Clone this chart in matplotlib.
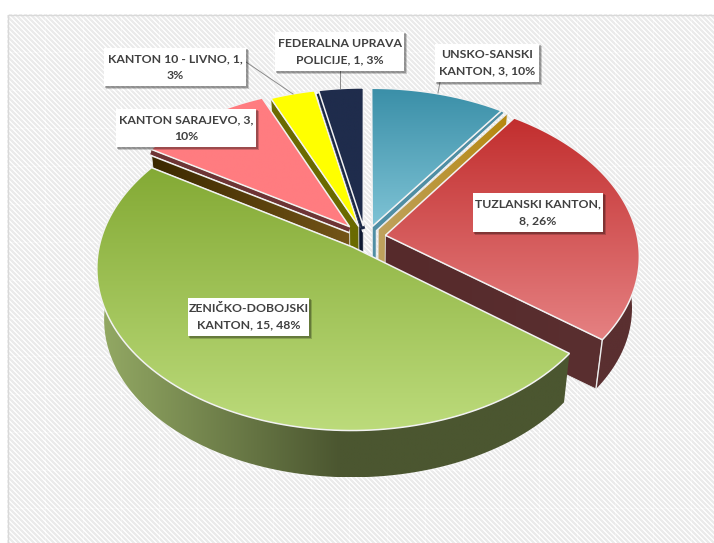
import numpy as np
import matplotlib
matplotlib.use("Agg")
import matplotlib.pyplot as plt
from matplotlib.colors import LinearSegmentedColormap
from matplotlib.patches import Polygon, Rectangle

# Data
counts = [3, 8, 15, 3, 1, 1]
label_text = [
    "UNSKO-SANSKI\nKANTON, 3, 10%",
    "TUZLANSKI KANTON,\n8, 26%",
    "ZENIČKO-DOBOJSKI\nKANTON, 15, 48%",
    "KANTON SARAJEVO, 3,\n10%",
    "KANTON 10 - LIVNO, 1,\n3%",
    "FEDERALNA UPRAVA\nPOLICIJE, 1, 3%",
]
# colours: top gradient (far, near), side gradient (left, right), sliver
top_cols = [("#3a8fa8", "#7fc3d5"), ("#c22e2e", "#e58182"), ("#84aa35", "#bcdb7b"),
            ("#ff7c80", "#ff7c80"), ("#ffff00", "#ffff00"), ("#1f2c4c", "#1f2c4c")]
side_cols = [("#bfa25f", "#b6880f"), ("#562a2b", "#5a2f30"), ("#93a964", "#4b5630"),
             ("#3b2800", "#745518"), ("#6a6a00", "#6a6a00"), ("#0f1a33", "#0f1a33")]
sliver_cols = ["#4f8ea4", None, None, "#6e3435", None, "#1a2745"]
label_boxes = [(435, 44, 539, 82), (473, 193, 603, 232), (188, 298, 309, 336),
               (116, 109, 256, 147), (104, 48, 246, 86), (275, 32, 404, 71)]
leaders = [((440, 82), (438, 93)), None, None, None, ((246, 62), (293, 94)), ((340, 71), (340, 88))]
shift_x = [0, 1, -4, -6, -3, -2]
shift_y = [0, 0, 1, -2, 0, 0]

W, H = 714, 543
CX, CY = 367, 237
A, B, P = 252.0, 158.0, 0.125
EXPLODE = 0.07
SHRINK, DROP = 0.973, 52.0

fig = plt.figure(figsize=(W / 100, H / 100), dpi=100)
ax = fig.add_axes([0, 0, 1, 1])


def project(u, v):
    w = 1 + P * v
    return CX + A * u / w, CY - B * v / w


def lower(xy):
    xy = np.asarray(xy, dtype=float)
    return np.column_stack([CX + (xy[:, 0] - CX) * SHRINK, CY + (xy[:, 1] - CY) * SHRINK + DROP])


def fill_gradient(poly, c0, c1, vertical=True, z=2, span=None):
    cmap = LinearSegmentedColormap.from_list("g", [c0, c1])
    x0, y0 = poly.min(axis=0)
    x1, y1 = poly.max(axis=0)
    g = np.linspace(0, 1, 256)
    if span is not None:
        g = np.clip((np.linspace(x0, x1, 256) - span[0]) / (span[1] - span[0]), 0, 1)
    g = g.reshape(-1, 1) if vertical else g.reshape(1, -1)
    im = ax.imshow(g, cmap=cmap, vmin=0, vmax=1, extent=[x0, x1, y1, y0], aspect="auto", zorder=z, interpolation="bilinear")
    patch = Polygon(poly, closed=True, fc="none", ec="none")
    ax.add_patch(patch)
    im.set_clip_path(patch)


# Background: striped texture with faint tile seams
yy, xx = np.mgrid[0:H, 0:W]
tex = np.where((xx - yy) % 5 < 3, 0.92, 0.985)
seam_x = (xx - 8) % 38 == 37
seam_y = (yy - 15) % 38 == 37
tex[seam_x] = tex[seam_x] + 0.02
tex[seam_y] = tex[seam_y] + 0.02
tex[:14, :] = 1
tex[:, :7] = 1
ax.imshow(tex, cmap="gray", vmin=0, vmax=1, extent=[0, W, H, 0], aspect="auto", interpolation="nearest", zorder=0)
ax.plot([7.5, 7.5, W], [H, 14.5, 14.5], color="#d9d9d9", lw=1, zorder=1)
ax.set_xlim(0, W)
ax.set_ylim(H, 0)
ax.axis("off")

# Slices
fracs = np.array(counts) / sum(counts)
ends = np.cumsum(fracs) * 2 * np.pi
starts = ends - fracs * 2 * np.pi
geo = []
for a0, a1, sx, sy in zip(starts, ends, shift_x, shift_y):
    mid = (a0 + a1) / 2
    du, dv = EXPLODE * np.sin(mid), EXPLODE * np.cos(mid)
    th = np.linspace(a0, a1, 120)
    rim = np.column_stack(project(du + np.sin(th), dv + np.cos(th))) + [sx, sy]
    apex = np.array(project(du, dv)) + [sx, sy]
    geo.append((rim, apex))

# back to front, same order the slices overlap in the picture
z = 2.0
for i in [5, 4, 3, 0, 1, 2]:
    rim, apex = geo[i]
    z += 1
    top = np.vstack([apex, rim])
    # the radial face turned toward the viewer
    edge = rim[0] if i in (3, 4, 5) else rim[-1]
    radial = np.array([apex, edge])
    face = radial + [6, 3] if i == 0 else radial
    side = np.vstack([face, lower(face)[::-1]])
    fill_gradient(side, side_cols[i][0], side_cols[i][1], vertical=False, z=z)
    ax.add_patch(Polygon(side, closed=True, fc="none", ec="#e8e8e8", lw=0.6, zorder=z + 0.1))
    if i == 0:
        # teal strip under the blue slice
        strip = np.array([edge, apex, apex + [0, 38], apex + [4, 38], apex + [4, 4], edge + [3, 2]])
        ax.add_patch(Polygon(strip, closed=True, fc=sliver_cols[0], ec="#f2f2f2", lw=0.7, zorder=z + 0.3))
    elif sliver_cols[i]:
        # thin darker strip straight under the top edge, then a white gap
        ax.plot(radial[:, 0], radial[:, 1] + 6, color="#f2f2f2", lw=1.4, zorder=z + 0.2, solid_capstyle="butt")
        ax.plot(radial[:, 0], radial[:, 1] + 3, color=sliver_cols[i], lw=3, zorder=z + 0.3, solid_capstyle="butt")
    # outer curved side
    if i in (1, 2):
        low = lower(rim)
        shell = np.vstack([rim, low[::-1]])
        if i == 2:
            fill_gradient(shell, side_cols[2][0], side_cols[2][1], vertical=False, z=z + 0.2, span=(100, 340))
        else:
            fill_gradient(shell, "#5a2f30", "#5a2f30", vertical=False, z=z + 0.2)
            ax.plot([rim[-1, 0], low[-1, 0]], [rim[-1, 1], low[-1, 1]], color="#ececec", lw=1, zorder=z + 0.3)
    fill_gradient(top, top_cols[i][0], top_cols[i][1], z=z + 0.5)
    ax.add_patch(Polygon(top, closed=True, fc="none", ec="#f2f2f2", lw=1.1, zorder=z + 0.6, joinstyle="miter"))

# Leader lines
for seg in leaders:
    if seg:
        ax.plot([seg[0][0], seg[1][0]], [seg[0][1], seg[1][1]], color="#8c8c8c", lw=0.7, zorder=20)

# Labels
for txt, (x0, y0, x1, y1) in zip(label_text, label_boxes):
    ax.add_patch(Rectangle((x0 + 2, y0 + 2), x1 - x0 + 1, y1 - y0 + 1, fc="#000000", alpha=0.18, ec="none", zorder=21))
    ax.add_patch(Rectangle((x0 + 1, y0 + 1), x1 - x0 + 1, y1 - y0 + 1, fc="#000000", alpha=0.25, ec="none", zorder=21))
    ax.add_patch(Rectangle((x0, y0), x1 - x0, y1 - y0, fc="white", ec="none", zorder=22))
    ax.text((x0 + x1) / 2, (y0 + y1) / 2, txt, ha="center", va="center", family="Lato", weight="bold",
            fontsize=8.85, color="#404040", linespacing=1.6, zorder=23)

fig.savefig("out.png", dpi=100, facecolor="white")
